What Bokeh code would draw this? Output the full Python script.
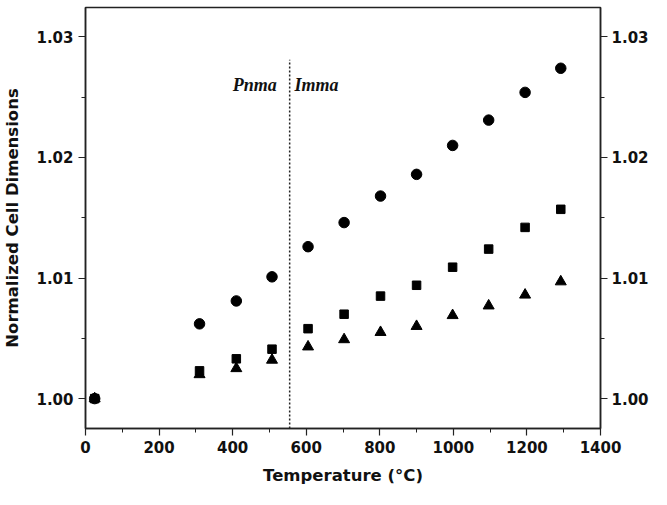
from bokeh.plotting import figure
from bokeh.models import Range1d, LinearAxis, FixedTicker, Label
from bokeh.embed import file_html
from bokeh.resources import INLINE

temps = [25, 310, 410, 507, 605, 703, 802, 900, 998, 1096, 1195, 1292]
circles = [1.0000, 1.0062, 1.0081, 1.0101, 1.0126, 1.0146, 1.0168, 1.0186, 1.0210, 1.0231, 1.0254, 1.0274]
squares = [1.0000, 1.0023, 1.0033, 1.0041, 1.0058, 1.0070, 1.0085, 1.0094, 1.0109, 1.0124, 1.0142, 1.0157]
triangles = [1.0000, 1.0020, 1.0025, 1.0032, 1.0043, 1.0049, 1.0055, 1.0060, 1.0069, 1.0077, 1.0086, 1.0097]
x_ticks = [0, 200, 400, 600, 800, 1000, 1200, 1400]
x_minor = [100, 300, 500, 700, 900, 1100, 1300]
y_ticks = [1.00, 1.01, 1.02, 1.03]
y_minor = [1.005, 1.015, 1.025]
y_labels = {1.0: "1.00", 1.01: "1.01", 1.02: "1.02", 1.03: "1.03"}
transition_T = 555
line_top = 1.0281
phase_left = "Pnma"
phase_right = "Imma"

p = figure(width=651, height=489, output_backend="svg", toolbar_location=None,
           x_range=Range1d(0, 1400), y_range=Range1d(0.99752, 1.03244),
           min_border_left=82, min_border_right=48, min_border_top=7, min_border_bottom=61)
p.xgrid.visible = False
p.ygrid.visible = False
p.outline_line_color = "#222222"
p.outline_line_width = 1.5
p.background_fill_color = "white"
p.border_fill_color = "white"

label_font = "DejaVu Sans"

def style_axis(ax):
    ax.axis_line_color = "#222222"
    ax.axis_line_width = 1.5
    ax.major_tick_line_color = "#222222"
    ax.minor_tick_line_color = "#222222"
    ax.major_tick_line_width = 1.2
    ax.minor_tick_line_width = 1.0
    ax.major_tick_out = 7
    ax.major_tick_in = 0
    ax.minor_tick_out = 4
    ax.minor_tick_in = 0
    ax.major_label_text_font = label_font
    ax.major_label_text_font_style = "bold"
    ax.major_label_text_font_size = "15px"
    ax.major_label_text_color = "#111111"
    ax.major_label_standoff = 5
    ax.axis_label_text_font = label_font
    ax.axis_label_text_font_style = "bold"
    ax.axis_label_text_font_size = "16.5px"
    ax.axis_label_text_color = "#111111"

p.xaxis.ticker = FixedTicker(ticks=x_ticks, minor_ticks=x_minor)
p.yaxis.ticker = FixedTicker(ticks=y_ticks, minor_ticks=y_minor)
style_axis(p.xaxis[0])
style_axis(p.yaxis[0])
p.xaxis.axis_label = "Temperature (°C)"
p.yaxis.axis_label = "Normalized Cell Dimensions"
p.xaxis.axis_label_standoff = 10
p.yaxis.axis_label_standoff = 11
p.yaxis.major_label_overrides = y_labels

ry = LinearAxis(ticker=FixedTicker(ticks=y_ticks, minor_ticks=y_minor))
style_axis(ry)
ry.major_label_standoff = 4
ry.major_label_overrides = y_labels
p.add_layout(ry, "right")

p.segment(x0=[transition_T], y0=[0.99752], x1=[transition_T], y1=[line_top],
          line_color="#222222", line_width=1.5, line_dash="2 2")

p.scatter(temps, circles, marker="circle", size=10.5, fill_color="black", line_color="black")
p.scatter(temps, squares, marker="square", size=8.5, fill_color="black", line_color="black")
p.scatter(temps, triangles, marker="triangle", size=11, fill_color="black", line_color="black")

p.add_layout(Label(x=transition_T - 35, y=1.0260, text=phase_left, text_align="right",
                   text_baseline="alphabetic", text_font="Liberation Serif",
                   text_font_style="bold italic", text_font_size="18px", text_color="#111111"))
p.add_layout(Label(x=transition_T + 13, y=1.0260, text=phase_right, text_align="left",
                   text_baseline="alphabetic", text_font="Liberation Serif",
                   text_font_style="bold italic", text_font_size="18px", text_color="#111111"))

open("out.html", "w").write(file_html(p, INLINE))
